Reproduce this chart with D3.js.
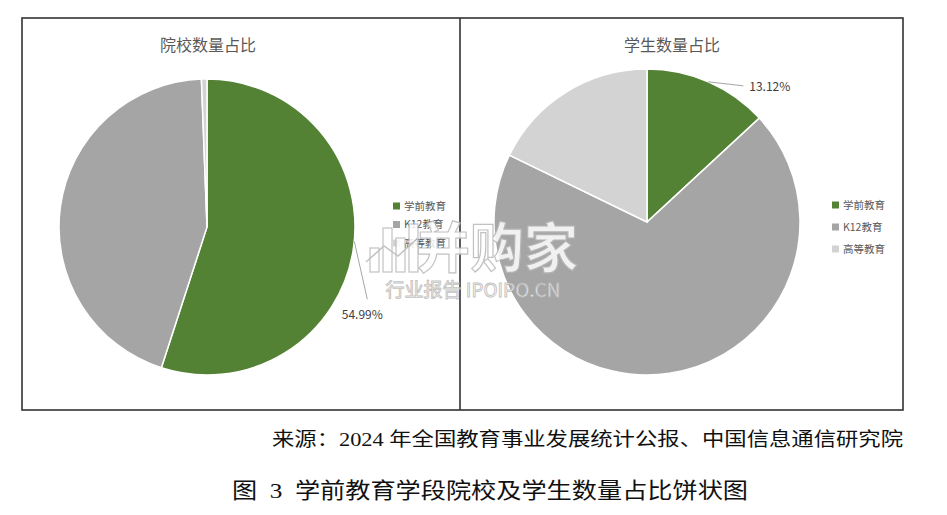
<!DOCTYPE html>
<html><head><meta charset="utf-8">
<script src="https://cdn.jsdelivr.net/npm/d3@7"></script>
<style>body{margin:0;background:#fff}svg{display:block}</style>
</head><body>
<svg id="c" width="947" height="515"></svg>
<script>
const categories = ["学前教育", "K12教育", "高等教育"];
const schoolShare = [54.99, 44.41, 0.60];
const studentShare = [13.12, 69.08, 17.80];
const chartTitles = ["院校数量占比", "学生数量占比"];
const sourceText = "来源：2024 年全国教育事业发展统计公报、中国信息通信研究院";
const figureTitle = "图  3  学前教育学段院校及学生数量占比饼状图";

const colors = d3.scaleOrdinal().domain(categories).range(["#548235", "#A5A5A5", "#D3D3D3"]);
const svg = d3.select("#c");
const sans = "'Noto Sans CJK SC','Noto Sans',sans-serif";
const serif = "'Liberation Serif','Noto Sans CJK SC',serif";

// frame
svg.append("rect").attr("x", 22).attr("y", 18).attr("width", 881).attr("height", 392)
  .attr("fill", "none").attr("stroke", "#333").attr("stroke-width", 1.6);
svg.append("line").attr("x1", 460).attr("x2", 460).attr("y1", 18).attr("y2", 410)
  .attr("stroke", "#333").attr("stroke-width", 1.6);

const pie = d3.pie().sort(null).value(d => d.v);

function drawPie(cfg) {
  const g = svg.append("g").attr("transform", `translate(${cfg.cx},${cfg.cy})`);
  const arcs = pie(categories.map((c, i) => ({c, v: cfg.values[i]})));
  const arc = d3.arc().innerRadius(0).outerRadius(cfg.r);
  g.selectAll("path").data(arcs).join("path")
    .attr("d", arc).attr("fill", d => colors(d.data.c))
    .attr("stroke", "#fff").attr("stroke-width", 1.5);
  const a = arcs[cfg.labelIdx];
  const mid = (a.startAngle + a.endAngle) / 2 + cfg.labelAngleShift;
  const p0 = [Math.sin(mid) * cfg.r, -Math.cos(mid) * cfg.r];
  const p1 = [p0[0] + cfg.leader[0], p0[1] + cfg.leader[1]];
  g.append("line").attr("x1", p0[0]).attr("y1", p0[1]).attr("x2", p1[0]).attr("y2", p1[1])
    .attr("stroke", "#a6a6a6").attr("stroke-width", 1);
  g.append("text").attr("x", p1[0] + cfg.textOff[0]).attr("y", p1[1] + cfg.textOff[1])
    .attr("text-anchor", cfg.anchor).attr("font-family", sans).attr("font-size", 12)
    .attr("fill", "#404040").text(cfg.values[cfg.labelIdx].toFixed(2) + "%");
  svg.append("text").attr("x", cfg.titleX).attr("y", 51).attr("text-anchor", "middle")
    .attr("font-family", sans).attr("font-size", 16).attr("fill", "#595959").text(cfg.title);
  const lg = svg.append("g").attr("transform", `translate(${cfg.legX},${cfg.legY})`);
  categories.forEach((c, i) => {
    const row = lg.append("g").attr("transform", `translate(0,${i * cfg.legStep})`);
    row.append("rect").attr("x", 0).attr("y", -3.5).attr("width", 7).attr("height", 7).attr("fill", colors(c));
    row.append("text").attr("x", 11).attr("y", 3.8).attr("font-family", sans).attr("font-size", 10.5)
      .attr("fill", "#595959").text(c);
  });
}

drawPie({cx: 207, cy: 227, r: 148, values: schoolShare, labelIdx: 0, labelAngleShift: -0.06,
  leader: [13, 58], textOff: [-5, 20], anchor: "middle",
  title: chartTitles[0], titleX: 208, legX: 393, legY: 206, legStep: 18.5});
drawPie({cx: 647, cy: 222, r: 153, values: studentShare, labelIdx: 0, labelAngleShift: 0,
  leader: [35, 4], textOff: [6, 5], anchor: "start",
  title: chartTitles[1], titleX: 672, legX: 832, legY: 205, legStep: 22});

// watermark
const wm = svg.append("g").attr("opacity", 0.85);
wm.append("text").attr("x", 497).attr("y", 268).attr("text-anchor", "middle")
  .attr("font-family", sans).attr("font-weight", "bold").attr("font-size", 54)
  .attr("fill", "#fff").attr("stroke", "#b8b8b8").attr("stroke-width", 1.2).text("并购家");
wm.append("text").attr("x", 473).attr("y", 297).attr("text-anchor", "middle")
  .attr("font-family", sans).attr("font-size", 19)
  .attr("fill", "#fff").attr("stroke", "#b8b8b8").attr("stroke-width", 0.9).text("行业报告 IPOIPO.CN");
const bars = [[370, 248, 9, 24], [383, 228, 9, 44], [396, 238, 9, 34], [409, 224, 9, 48]];
bars.forEach(b => wm.append("rect").attr("x", b[0]).attr("y", b[1]).attr("width", b[2]).attr("height", b[3])
  .attr("fill", "#fff").attr("stroke", "#b8b8b8").attr("stroke-width", 1.2));
wm.append("polyline").attr("points", "366,262 384,246 398,256 418,238")
  .attr("fill", "none").attr("stroke", "#b8b8b8").attr("stroke-width", 1.5);

// captions
svg.append("text").attr("x", 903).attr("y", 446).attr("text-anchor", "end")
  .attr("font-family", serif).attr("font-size", 19).attr("fill", "#111")
  .attr("textLength", 631).attr("lengthAdjust", "spacingAndGlyphs").text(sourceText);
svg.append("text").attr("x", 490).attr("y", 498).attr("text-anchor", "middle")
  .style("white-space", "pre")
  .attr("font-family", serif).attr("font-size", 22).attr("fill", "#111")
  .attr("textLength", 516).attr("lengthAdjust", "spacingAndGlyphs").text(figureTitle);
</script>
</body></html>
